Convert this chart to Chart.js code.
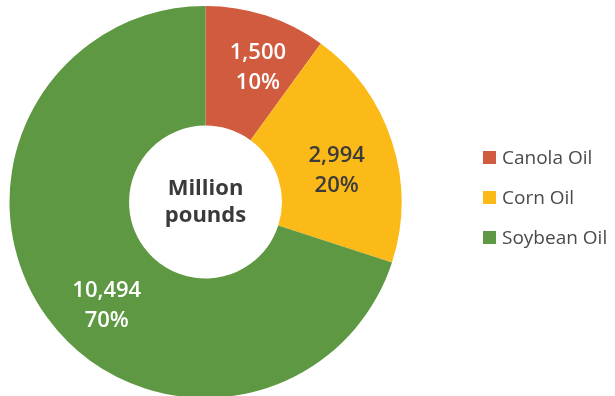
<!DOCTYPE html>
<html>
<head>
    <title>Vegetable oil use, million pounds</title>
    <script src="https://cdn.jsdelivr.net/npm/chart.js"></script>
    <style>
        html, body { margin: 0; padding: 0; background: #fff; }
        #wrap { width: 615px; height: 396px; overflow: hidden; position: relative; }
        #wrap canvas { display: block; }
    </style>
</head>
<body>
    <div id="wrap"><canvas id="oilChart" width="615" height="410"></canvas></div>
    <script>
        // Oil volumes in million pounds, with their share of the total
        const oils = ['Canola Oil', 'Corn Oil', 'Soybean Oil'];
        const pounds = [1500, 2994, 10494];
        const shares = ['10%', '20%', '70%'];
        const colors = ['#D05B3F', '#FCBA18', '#5F9842'];
        const labelInk = ['#ffffff', '#3b3b3b', '#ffffff'];

        const FONT = '"Open Sans", "Noto Sans", sans-serif';

        // Value + percent in each slice, nudged a little off the arc midpoint
        const sliceLabels = {
            id: 'sliceLabels',
            afterDatasetsDraw(chart, args, opts) {
                const ctx = chart.ctx;
                const arcs = chart.getDatasetMeta(0).data;
                ctx.save();
                ctx.font = '600 22px ' + FONT;
                ctx.textAlign = 'center';
                ctx.textBaseline = 'alphabetic';
                arcs.forEach((arc, i) => {
                    const p = arc.getProps(['x', 'y', 'startAngle', 'endAngle', 'innerRadius', 'outerRadius'], true);
                    const nudge = opts.nudge[i];
                    const mid = (p.startAngle + p.endAngle) / 2 + nudge[0] * Math.PI / 180;
                    const r = (p.innerRadius + p.outerRadius) / 2 + nudge[1];
                    const cx = p.x + Math.cos(mid) * r;
                    const cy = p.y + Math.sin(mid) * r;
                    ctx.fillStyle = labelInk[i];
                    ctx.fillText(pounds[i].toLocaleString('en-US'), cx, cy - 7);
                    ctx.fillText(shares[i], cx, cy + 23);
                });
                ctx.restore();
            }
        };

        // Unit caption in the hole
        const centerText = {
            id: 'centerText',
            afterDraw(chart) {
                const arc = chart.getDatasetMeta(0).data[0];
                const ctx = chart.ctx;
                ctx.save();
                ctx.font = 'bold 22px ' + FONT;
                ctx.fillStyle = '#3a3a3a';
                ctx.textAlign = 'center';
                ctx.fillText('Million', arc.x, arc.y - 7);
                ctx.fillText('pounds', arc.x, arc.y + 20);
                ctx.restore();
            }
        };

        // Legend to the right of the ring
        const sideLegend = {
            id: 'sideLegend',
            afterDraw(chart) {
                const ctx = chart.ctx;
                ctx.save();
                ctx.font = '19px ' + FONT;
                ctx.textBaseline = 'middle';
                oils.forEach((name, i) => {
                    const y = 157.5 + i * 40;
                    ctx.fillStyle = colors[i];
                    ctx.fillRect(483, y - 6.5, 13, 13);
                    ctx.fillStyle = '#4a4a4a';
                    ctx.fillText(name, 502, y + 1);
                });
                ctx.restore();
            }
        };

        new Chart(document.getElementById('oilChart'), {
            type: 'doughnut',
            data: {
                labels: oils,
                datasets: [{
                    data: pounds,
                    backgroundColor: colors,
                    borderWidth: 0
                }]
            },
            options: {
                responsive: false,
                animation: false,
                cutout: '39%',
                layout: { padding: { left: 9.5, right: 213.5, top: 6, bottom: 12 } },
                plugins: {
                    legend: { display: false },
                    tooltip: { enabled: false },
                    sliceLabels: { nudge: [[3, 10], [4, -1], [-10, 6]] }
                }
            },
            plugins: [sliceLabels, centerText, sideLegend]
        });
    </script>
</body>
</html>
